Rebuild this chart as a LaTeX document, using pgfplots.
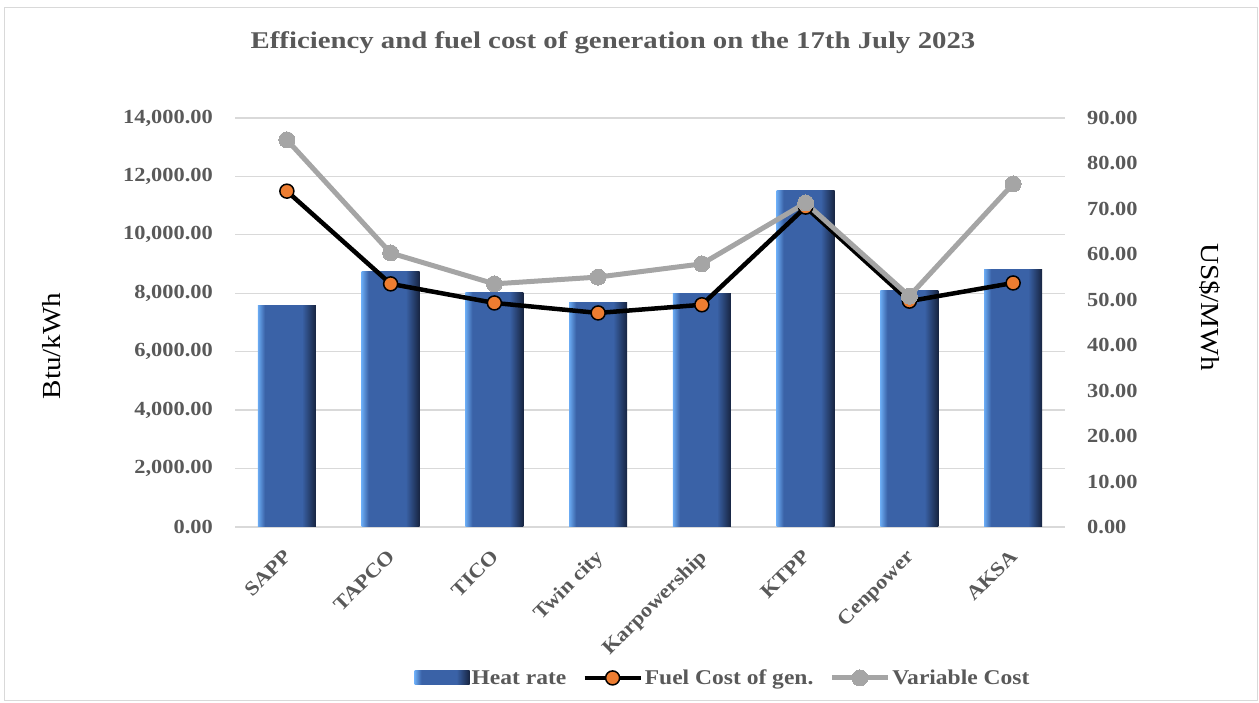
\documentclass[border=0pt]{standalone}
\usepackage{pgfplots}
\pgfplotsset{compat=1.18}
\usepackage{fontspec}
\setmainfont[FakeStretch=1.12]{Liberation Serif}
\newfontfamily\titlefont[FakeStretch=1.2]{Liberation Serif}

\definecolor{textgray}{HTML}{595959}
\definecolor{gridgray}{HTML}{D9D9D9}
\definecolor{blight}{HTML}{6AAAF2}
\definecolor{bmid}{HTML}{3A62A7}
\definecolor{bdark}{HTML}{172440}
\definecolor{fuelorange}{HTML}{ED7D31}
\definecolor{vgray}{HTML}{A5A5A5}

\pgfdeclarehorizontalshading{barshade}{100bp}{color(0bp)=(blight); color(25bp)=(blight); color(31bp)=(bmid); color(63bp)=(bmid); color(75bp)=(bdark); color(100bp)=(bdark)}

\pgfplotsset{
  common/.style={
    at={(235pt,176pt)}, anchor=south west,
    scale only axis, width=830pt, height=409pt,
    xmin=-0.5, xmax=7.5,
    major tick length=0pt,
    axis line style={draw=none},
    ticklabel style={font=\bfseries\fontsize{20}{24}\selectfont, text=textgray},
  },
  heatbar/.style={ybar, bar width=58pt, draw=none, shading=barshade, forget plot},
  lineleg/.style={legend image code/.code={\draw[mark repeat=2, mark phase=2, ##1] plot coordinates {(0pt,0pt) (28pt,0pt) (56pt,0pt)};}},
  barleg/.style={legend image code/.code={\path[##1] (0pt,-7pt) rectangle (55pt,7pt);}},
}

\begin{document}
\begin{tikzpicture}
\useasboundingbox (0,0) rectangle (1259pt,703pt);
\draw[gray!30, line width=1pt] (4pt,2pt) rectangle (1257pt,695pt);

\node[text=textgray, font=\titlefont\bfseries\fontsize{24}{28}\selectfont] at (613pt,660pt)
  {Efficiency and fuel cost of generation on the 17th July 2023};

% heat rate bars (left axis), one plot per bar so each gets its own shading
\begin{axis}[common,
  ymin=0, ymax=14000,
  ytick={0,2000,...,14000},
  ymajorgrids, grid style={gridgray, line width=1.3pt},
  scaled y ticks=false,
  yticklabel style={anchor=east, inner sep=0pt, xshift=-22pt,
    /pgf/number format/.cd, fixed, fixed zerofill, precision=2, 1000 sep={,}, assume math mode=true},
  xtick={0,...,7},
  xticklabels={SAPP,TAPCO,TICO,Twin city,Karpowership,KTPP,Cenpower,AKSA},
  xticklabel style={rotate=45, anchor=north east, inner sep=0pt, xshift=-18pt, yshift=-12pt},
]
\addplot[heatbar] coordinates {(0,7580)};
\addplot[heatbar] coordinates {(1,8760)};
\addplot[heatbar] coordinates {(2,8040)};
\addplot[heatbar] coordinates {(3,7700)};
\addplot[heatbar] coordinates {(4,7980)};
\addplot[heatbar] coordinates {(5,11530)};
\addplot[heatbar] coordinates {(6,8110)};
\addplot[heatbar] coordinates {(7,8800)};
\end{axis}

% costs (right axis)
\begin{axis}[common,
  ymin=0, ymax=90,
  ytick={0,10,...,90},
  axis y line*=right, axis x line=none,
  yticklabel style={anchor=west, inner sep=0pt, xshift=22pt,
    /pgf/number format/.cd, fixed, fixed zerofill, precision=2, assume math mode=true},
  legend columns=3,
  legend style={draw=none, fill=none, at={(0.588,-0.369)}, anchor=center,
    font=\bfseries\fontsize{21}{25}\selectfont, text=textgray,
    /tikz/every even column/.append style={column sep=14pt}},
]
\addlegendimage{draw=none, shading=barshade, barleg}
\addlegendentry{Heat rate}
\addplot[black, line width=4.5pt, mark=*, mark size=7pt,
  mark options={fill=fuelorange, draw=black, line width=1.5pt}, lineleg]
  coordinates {
  (0,73.9) (1,53.5) (2,49.3) (3,47.1) (4,48.9) (5,70.4) (6,49.7) (7,53.7)
};
\addlegendentry{Fuel Cost of gen.}
\addplot[vgray, line width=5pt, mark=*, mark size=8pt,
  mark options={fill=vgray, draw=vgray, line width=0pt}, lineleg]
  coordinates {
  (0,85.2) (1,60.3) (2,53.5) (3,55.0) (4,57.9) (5,71.3) (6,50.8) (7,75.5)
};
\addlegendentry{Variable Cost}
\end{axis}

\node[rotate=90, font=\fontsize{26}{30}\selectfont] at (52pt,357pt) {Btu/kWh};
\node[rotate=-90, font=\fontsize{26}{30}\selectfont] at (1210pt,396pt) {US\$/MWh};
\end{tikzpicture}
\end{document}
